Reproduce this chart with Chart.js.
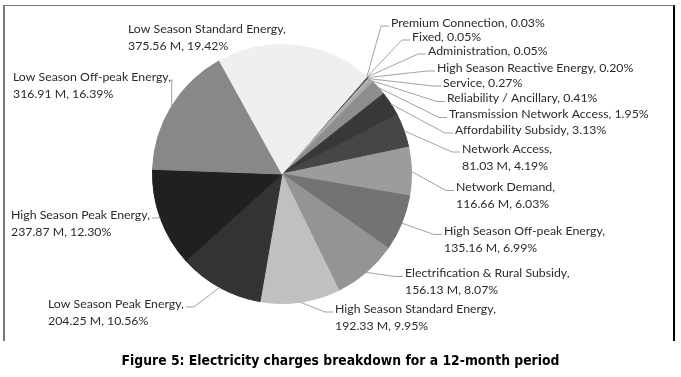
<!DOCTYPE html>
<html>
<head>
<meta charset="utf-8">
<script src="https://cdn.jsdelivr.net/npm/chart.js@4/dist/chart.umd.min.js"></script>
<style>
  html, body { margin: 0; padding: 0; background: #ffffff; }
  #wrap { position: relative; width: 681px; height: 377px; overflow: hidden; background: #fff; }
  #frame { position: absolute; left: 3px; top: 5px; width: 668px; height: 335px;
           border-left: 2px solid #7a7a7a; border-top: 1px solid #7a7a7a; border-right: 2px solid #000; }
  #c { position: absolute; left: 0; top: 0; }
  #caption { position: absolute; left: 0; top: 352px; width: 681px; text-align: center;
             font: bold 13.8px 'DejaVu Sans Condensed', 'DejaVu Sans', sans-serif; line-height: 17px; color: #000; }
</style>
</head>
<body>
<div id="wrap">
  <div id="frame"></div>
  <canvas id="c" width="681" height="377"></canvas>
  <div id="caption">Figure 5: Electricity charges breakdown for a 12-month period</div>
</div>
<script>
const categories = [
  'Premium Connection', 'Fixed', 'Administration', 'High Season Reactive Energy', 'Service',
  'Reliability / Ancillary', 'Transmission Network Access', 'Affordability Subsidy', 'Network Access',
  'Network Demand', 'High Season Off-peak Energy', 'Electrification & Rural Subsidy',
  'High Season Standard Energy', 'Low Season Peak Energy', 'High Season Peak Energy',
  'Low Season Off-peak Energy', 'Low Season Standard Energy'
];
const valuesM = [0.58, 0.97, 0.97, 3.87, 5.22, 7.93, 37.71, 60.53, 81.03,
  116.66, 135.16, 156.13, 192.33, 204.25, 237.87, 316.91, 375.56];
const percentLabels = ['0.03%', '0.05%', '0.05%', '0.20%', '0.27%', '0.41%', '1.95%', '3.13%', '4.19%',
  '6.03%', '6.99%', '8.07%', '9.95%', '10.56%', '12.30%', '16.39%', '19.42%'];
const showValue = [false, false, false, false, false, false, false, false, true,
  true, true, true, true, true, true, true, true];

const sliceColors = ['#c8c8c8', '#7a7a7a', '#d0d0d0', '#5a5a5a', '#b4b4b4', '#a8a8a8', '#8e8e8e', '#383838', '#464646',
  '#9c9c9c', '#737373', '#949494', '#c0c0c0', '#333333', '#202020', '#888888', '#efefef'];

// label placement (text left x, first-line centre y, side)
const labelLayout = [
  {x: 391, y: 23, side: 'R'}, {x: 412, y: 37, side: 'R'}, {x: 428, y: 51, side: 'R'},
  {x: 437, y: 68, side: 'R'}, {x: 443, y: 83, side: 'R'}, {x: 447, y: 98.5, side: 'R'},
  {x: 449, y: 114.5, side: 'R'}, {x: 455, y: 130, side: 'R'}, {x: 462, y: 149, side: 'R'},
  {x: 456, y: 187.5, side: 'R'}, {x: 444, y: 231.5, side: 'R'}, {x: 405, y: 273.5, side: 'R'},
  {x: 335, y: 309, side: 'R'}, {x: 48, y: 304, side: 'L'}, {x: 11, y: 215, side: 'L'},
  {x: 13, y: 77, side: 'L'}, {x: 128, y: 29, side: 'L', noLeader: true}
];
const LABEL_FONT = "12.3px Lato, 'Open Sans', sans-serif";
const LINE_GAP = 17;

const labelPlugin = {
  id: 'pieLabels',
  afterDatasetsDraw(chart) {
    const ctx = chart.ctx;
    const meta = chart.getDatasetMeta(0);
    ctx.save();
    ctx.font = LABEL_FONT;
    ctx.textBaseline = 'middle';
    ctx.textAlign = 'left';
    meta.data.forEach((arc, i) => {
      const p = arc.getProps(['x', 'y', 'startAngle', 'endAngle', 'outerRadius'], true);
      const mid = (p.startAngle + p.endAngle) / 2;
      const sx = p.x + Math.cos(mid) * p.outerRadius;
      const sy = p.y + Math.sin(mid) * p.outerRadius;
      const L = labelLayout[i];
      const lines = showValue[i]
        ? [categories[i] + ',', valuesM[i].toFixed(2) + ' M, ' + percentLabels[i]]
        : [categories[i] + ', ' + percentLabels[i]];
      if (!L.noLeader) {
        let p2x, p1x;
        const ly = L.y + 3;
        if (L.side === 'R') {
          p2x = L.x - 2;
          p1x = Math.max(p2x - 8, sx);
        } else {
          const w = ctx.measureText(lines[0]).width;
          p2x = L.x + w + 2;
          p1x = Math.min(p2x + 8, sx);
        }
        ctx.strokeStyle = '#a3a3a3';
        ctx.lineWidth = 1;
        ctx.beginPath();
        ctx.moveTo(sx, sy);
        ctx.lineTo(p1x, ly);
        ctx.lineTo(p2x, ly);
        ctx.stroke();
      }
      ctx.fillStyle = '#2b2b2b';
      lines.forEach((t, k) => ctx.fillText(t, L.x, L.y + k * LINE_GAP));
    });
    ctx.restore();
  }
};

new Chart(document.getElementById('c'), {
  type: 'pie',
  data: {
    labels: categories,
    datasets: [{
      data: valuesM,
      backgroundColor: sliceColors,
      borderColor: sliceColors,
      borderWidth: 1
    }]
  },
  options: {
    responsive: false,
    animation: false,
    devicePixelRatio: 1,
    rotation: 41,
    layout: { padding: { left: 152, right: 269, top: 44, bottom: 73 } },
    plugins: { legend: { display: false }, tooltip: { enabled: false } }
  },
  plugins: [labelPlugin]
});
</script>
</body>
</html>
